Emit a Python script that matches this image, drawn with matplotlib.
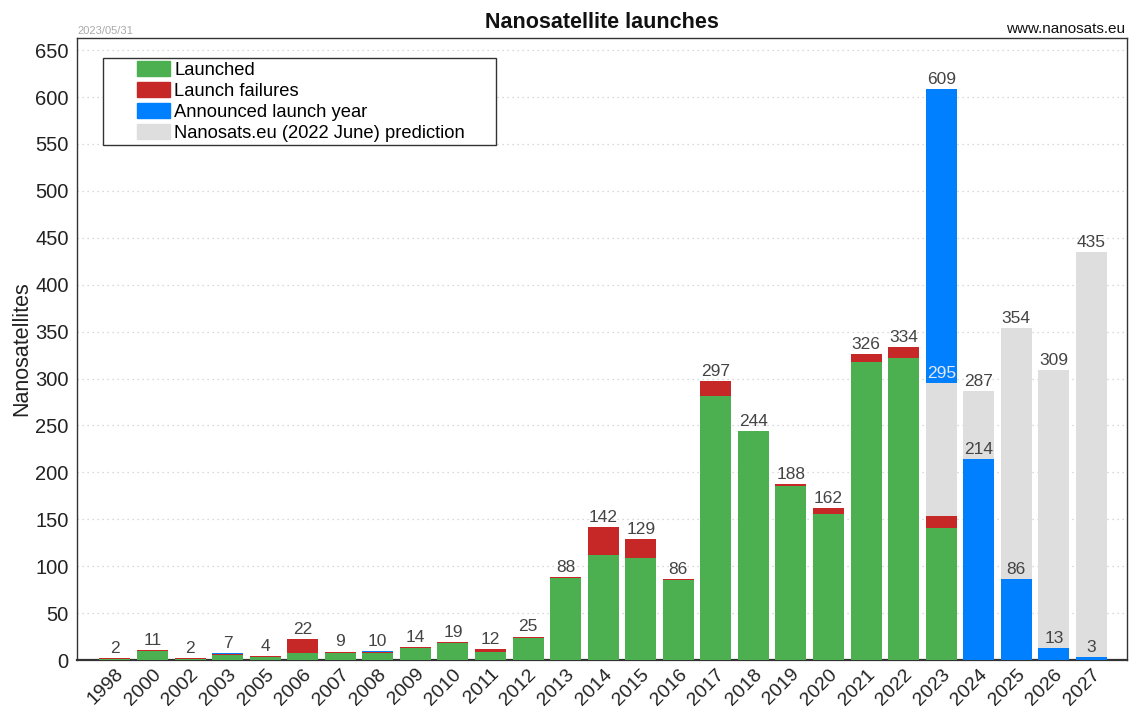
import numpy as np
import matplotlib
matplotlib.use("Agg")
import matplotlib.pyplot as plt
from matplotlib.patches import Patch, Rectangle

plt.rcParams["font.family"] = ["Liberation Sans", "DejaVu Sans"]

# ---- data -------------------------------------------------------------
years = ["1998", "2000", "2002", "2003", "2005", "2006", "2007", "2008",
         "2009", "2010", "2011", "2012", "2013", "2014", "2015", "2016",
         "2017", "2018", "2019", "2020", "2021", "2022", "2023", "2024",
         "2025", "2026", "2027"]
launched = [1, 10, 1, 5, 3, 7, 8, 7, 13, 18, 9, 24, 87, 112, 109, 85,
            281, 244, 186, 156, 318, 322, 141, 0, 0, 0, 0]
failures = [1, 1, 1, 1, 1, 15, 1, 2, 1, 1, 3, 1, 1, 30, 20, 1,
            16, 0, 2, 6, 8, 12, 12, 0, 0, 0, 0]
announced = [0, 0, 0, 1, 0, 0, 0, 1, 0, 0, 0, 0, 0, 0, 0, 0,
             0, 0, 0, 0, 0, 0, 456, 214, 86, 13, 3]
prediction = [0, 0, 0, 0, 0, 0, 0, 0, 0, 0, 0, 0, 0, 0, 0, 0,
              0, 0, 0, 0, 0, 0, 295, 287, 354, 309, 435]

legend_labels = ["Launched", "Launch failures", "Announced launch year",
                 "Nanosats.eu (2022 June) prediction"]

# ---- styling ----------------------------------------------------------
C_GREEN = "#4caf50"
C_RED = "#c62828"
C_BLUE = "#0080ff"
C_GREY = "#dedede"
C_LABEL = "#444444"
C_AXIS = "#222222"

launched = np.array(launched, dtype=float)
failures = np.array(failures, dtype=float)
announced = np.array(announced, dtype=float)
prediction = np.array(prediction, dtype=float)
total = launched + failures + announced
x = np.arange(len(years))
w = 0.825

fig = plt.figure(figsize=(11.30, 7.11), dpi=100)
ax = fig.add_axes([0.0681, 0.0717, 0.9292, 0.8749])

# In every year the taller of (announced total, prediction) sits behind
blue_back = total >= prediction
ax.bar(x[blue_back], total[blue_back], w, color=C_BLUE, zorder=2)
ax.bar(x[blue_back], prediction[blue_back], w, color=C_GREY, zorder=3)
ax.bar(x[~blue_back], prediction[~blue_back], w, color=C_GREY, zorder=2)
ax.bar(x[~blue_back], total[~blue_back], w, color=C_BLUE, zorder=3)

# launched + failures stack on top of everything
ax.bar(x, launched, w, color=C_GREEN, zorder=4)
ax.bar(x, failures, w, bottom=launched, color=C_RED, zorder=4)

# value labels
for xi, t, p, bb in zip(x, total, prediction, blue_back):
    if t > 0:
        ax.annotate(f"{int(t)}", (xi, t), xytext=(0, 1.5), textcoords="offset points",
                    ha="center", va="bottom", fontsize=12.5, color=C_LABEL, zorder=6)
    if p > 0:
        col = "#e4e8ee" if bb else C_LABEL
        ax.annotate(f"{int(p)}", (xi, p), xytext=(0, 1.5), textcoords="offset points",
                    ha="center", va="bottom", fontsize=12.5, color=col, zorder=6)

# axes
ax.set_xlim(-1.01, len(years) - 1 + 0.945)
ax.set_ylim(0, 663)
ax.set_yticks(np.arange(0, 651, 50))
ax.set_xticks(x)
ax.set_xticklabels(years, rotation=45, ha="right", rotation_mode="anchor")
ax.tick_params(axis="y", length=0, labelsize=14.5, colors=C_AXIS, pad=6)
ax.tick_params(axis="x", length=0, labelsize=14, colors=C_AXIS, pad=4)
ax.yaxis.grid(True, linestyle=(0, (1, 3)), color="#cccccc", linewidth=0.9, zorder=0)
ax.set_axisbelow(True)
for s in ax.spines.values():
    s.set_color("#333333")
    s.set_linewidth(1.0)
ax.spines["bottom"].set_linewidth(1.6)

ax.set_ylabel("Nanosatellites", fontsize=15.5, color=C_AXIS, labelpad=2)

# titles and notes
fig.text(0.5327, 0.9600, "Nanosatellite launches", ha="center", va="baseline",
         fontsize=15.5, fontweight="bold", color="#111111")
fig.text(0.9960, 0.9530, "www.nanosats.eu", ha="right", va="baseline",
         fontsize=11, color="#111111")
fig.text(0.0681, 0.9520, "2023/05/31", ha="left", va="baseline",
         fontsize=8, color="#aaaaaa")

# legend with a hand-drawn frame
handles = [Patch(color=C_GREEN), Patch(color=C_RED), Patch(color=C_BLUE),
           Patch(color=C_GREY)]
ax.legend(handles, legend_labels, loc="upper left",
          bbox_to_anchor=(0.0571, 0.9625), frameon=False, fontsize=13.2,
          borderpad=0, borderaxespad=0, handlelength=1.78, handleheight=0.87,
          handletextpad=0.25, labelspacing=0.18)
ax.add_patch(Rectangle((0.0248, 0.828), 0.374, 0.1398, transform=ax.transAxes,
                       facecolor="white", edgecolor="#333333", linewidth=1.0,
                       zorder=7))
ax.get_legend().set_zorder(8)

fig.savefig("out.png", dpi=100)
